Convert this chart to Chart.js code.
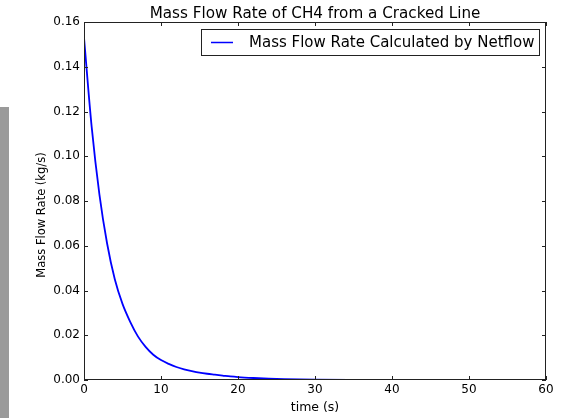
<!DOCTYPE html>
<html><head><meta charset="utf-8">
<script src="https://cdn.jsdelivr.net/npm/chart.js@4/dist/chart.umd.min.js"></script>
<style>
html,body{margin:0;padding:0;background:#fff;}
#wrap{position:relative;width:567px;height:418px;}
#bar{position:absolute;left:0;top:107px;width:9px;height:311px;background:#9a9a9a;}
canvas{position:absolute;left:0;top:0;}
</style></head>
<body><div id="wrap"><div id="bar"></div><canvas id="c" width="567" height="418"></canvas></div>
<script>
const titleText = "Mass Flow Rate of CH4 from a Cracked Line";
const xTitle = "time (s)";
const yTitle = "Mass Flow Rate (kg/s)";
const seriesName = "Mass Flow Rate Calculated by Netflow";
const timeS = [0,1,2,3,4,5,6,7,8,9,10,11,12,13,14,15,16,17,18,19,20,22,24,26,28,30,35,40,50,60];
const flowKgS = [0.153,0.113,0.083,0.061,0.045,0.034,0.026,0.0195,0.0148,0.0113,0.0089,0.0072,0.0058,0.0048,0.0040,0.0033,0.0028,0.0024,0.0020,0.0016,0.0013,0.0009,0.0006,0.0004,0.00025,0.00015,0.00005,0.00002,0,0];
const xTicks = [0,10,20,30,40,50,60];
const yTicks = [0,0.02,0.04,0.06,0.08,0.10,0.12,0.14,0.16];

const FONT = "'DejaVu Sans', sans-serif";
const deco = {
  id:'deco',
  afterDraw(chart){
    const ctx = chart.ctx, a = chart.chartArea, xs = chart.scales.x, ys = chart.scales.y;
    ctx.save();
    ctx.strokeStyle = '#222'; ctx.lineWidth = 1;
    ctx.strokeRect(Math.round(a.left)+0.5, Math.round(a.top)+0.5, Math.round(a.right-a.left)-1, Math.round(a.bottom-a.top)-1);
    ctx.beginPath();
    xTicks.forEach(v=>{const p=Math.round(xs.getPixelForValue(v))+0.5;
      ctx.moveTo(p,a.bottom);ctx.lineTo(p,a.bottom-4);ctx.moveTo(p,a.top);ctx.lineTo(p,a.top+4);});
    yTicks.forEach(v=>{const p=Math.round(ys.getPixelForValue(v))+0.5;
      ctx.moveTo(a.left,p);ctx.lineTo(a.left+4,p);ctx.moveTo(a.right,p);ctx.lineTo(a.right-4,p);});
    ctx.stroke();
    ctx.fillStyle='#000';
    ctx.font = "15.2px "+FONT; ctx.textAlign='center'; ctx.textBaseline='alphabetic';
    ctx.fillText(titleText,(a.left+a.right)/2,18);
    ctx.font = "12.5px "+FONT;
    ctx.fillText(xTitle,(a.left+a.right)/2,411);
    ctx.font = "11.5px "+FONT;
    ctx.save(); ctx.translate(45,215); ctx.rotate(-Math.PI/2);
    ctx.fillText(yTitle,0,0); ctx.restore();
    ctx.fillStyle='#fff'; ctx.fillRect(201,29,339,27);
    ctx.strokeStyle='#222'; ctx.lineWidth=1; ctx.strokeRect(201.5,29.5,338,26);
    ctx.strokeStyle='#0000ff'; ctx.lineWidth=1.5; ctx.beginPath(); ctx.moveTo(211,42.5); ctx.lineTo(233,42.5); ctx.stroke();
    ctx.fillStyle='#000'; ctx.font="15px "+FONT; ctx.textAlign='left'; ctx.textBaseline='middle';
    ctx.fillText(seriesName,249,43);
    ctx.restore();
  }
};

new Chart(document.getElementById('c'),{
  type:'line',
  data:{datasets:[{label:seriesName,data:timeS.map((t,i)=>({x:t,y:flowKgS[i]})),
    borderColor:'#0000ff',borderWidth:1.8,pointRadius:0,fill:false,cubicInterpolationMode:'monotone'}]},
  options:{
    responsive:false,animation:false,devicePixelRatio:1,
    layout:{padding:{left:0,right:21,top:22,bottom:0}},
    plugins:{legend:{display:false},title:{display:false},tooltip:{enabled:false}},
    scales:{
      x:{type:'linear',min:0,max:60,
        afterFit(s){s.height=38;},
        afterBuildTicks(s){s.ticks=xTicks.map(v=>({value:v}));},
        grid:{display:false,drawTicks:false},border:{display:false},
        ticks:{padding:3,color:'#000',font:{family:FONT,size:12},maxRotation:0,callback:v=>String(v)}},
      y:{type:'linear',min:0,max:0.16,
        afterFit(s){s.width=84;},
        afterBuildTicks(s){s.ticks=yTicks.map(v=>({value:v}));},
        grid:{display:false,drawTicks:false},border:{display:false},
        ticks:{padding:4,color:'#000',font:{family:FONT,size:12},callback:v=>Number(v).toFixed(2)}}
    }
  },
  plugins:[deco]
});
</script></body></html>
